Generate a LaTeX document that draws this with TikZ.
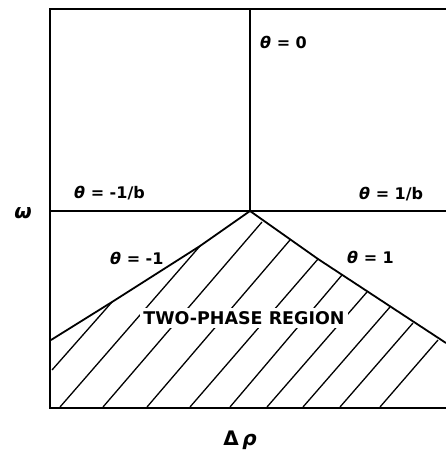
\documentclass[tikz,border=0pt]{standalone}
\usepackage{fontspec}
\setmainfont{DejaVu Sans}
\begin{document}
\begin{tikzpicture}[x=1pt,y=-1pt,
  frame/.style={line width=2.4pt},
  bound/.style={line width=1.8pt, line join=round},
  hatch/.style={line width=1.3pt},
  lab/.style={font=\fontsize{16}{16}\selectfont\bfseries, inner sep=0pt},
  big/.style={font=\fontsize{20}{20}\selectfont\bfseries, inner sep=0pt},
  region/.style={font=\fontsize{17.5}{17.5}\selectfont\bfseries, fill=white, inner sep=3pt}]
\useasboundingbox (0,0) rectangle (445,454);
% frame
\coordinate (tl) at (50,9);
\coordinate (tr) at (446,9);
\coordinate (bl) at (50,408);
\coordinate (br) at (446,408);
\coordinate (apex) at (250,211);
\coordinate (ml) at (50,211);
\coordinate (mr) at (446,211);
\coordinate (tc) at (250,9);
\draw[frame] (tr) -- (tl) -- (bl) -- (br);
\draw[frame] (ml) -- (mr);
\draw[frame] (tc) -- (apex);
% hatch lines
\draw[hatch] (52,370) -- (112,302);
\draw[hatch] (60,407) -- (200,246);
\draw[hatch] (103,407) -- (262,222);
\draw[hatch] (147,407) -- (290,240);
\draw[hatch] (190,407) -- (318,259);
\draw[hatch] (230,407) -- (342,275);
\draw[hatch] (267,407) -- (367,292);
\draw[hatch] (303,407) -- (390,307);
\draw[hatch] (340,407) -- (413,323);
\draw[hatch] (380,407) -- (438,340);
% phase boundaries
\coordinate (l1) at (200,246);
\coordinate (l2) at (112,302);
\coordinate (l3) at (51,340);
\coordinate (r1) at (318,259);
\coordinate (r2) at (446,343);
\draw[bound] (apex) -- (l1) -- (l2) -- (l3);
\draw[bound] (apex) -- (r1) -- (r2);
% labels
\node[region] (two) at (244,318) {TWO-PHASE REGION};
\node[lab, anchor=west] (t0) at (260,42) {{\itshape θ} = 0};
\node[lab, anchor=west] (tmb) at (74,193) {{\itshape θ} = -1/b};
\node[lab, anchor=west] (tpb) at (359,194) {{\itshape θ} = 1/b};
\node[lab, anchor=west] (tm1) at (110,258) {{\itshape θ} = -1};
\node[lab, anchor=west] (tp1) at (347,257) {{\itshape θ} = 1};
\node[big] (om) at (23,213) {{\itshape ω}};
\node[big] (dr) at (240,440) {Δ\,{\itshape ρ}};
\end{tikzpicture}
\end{document}
